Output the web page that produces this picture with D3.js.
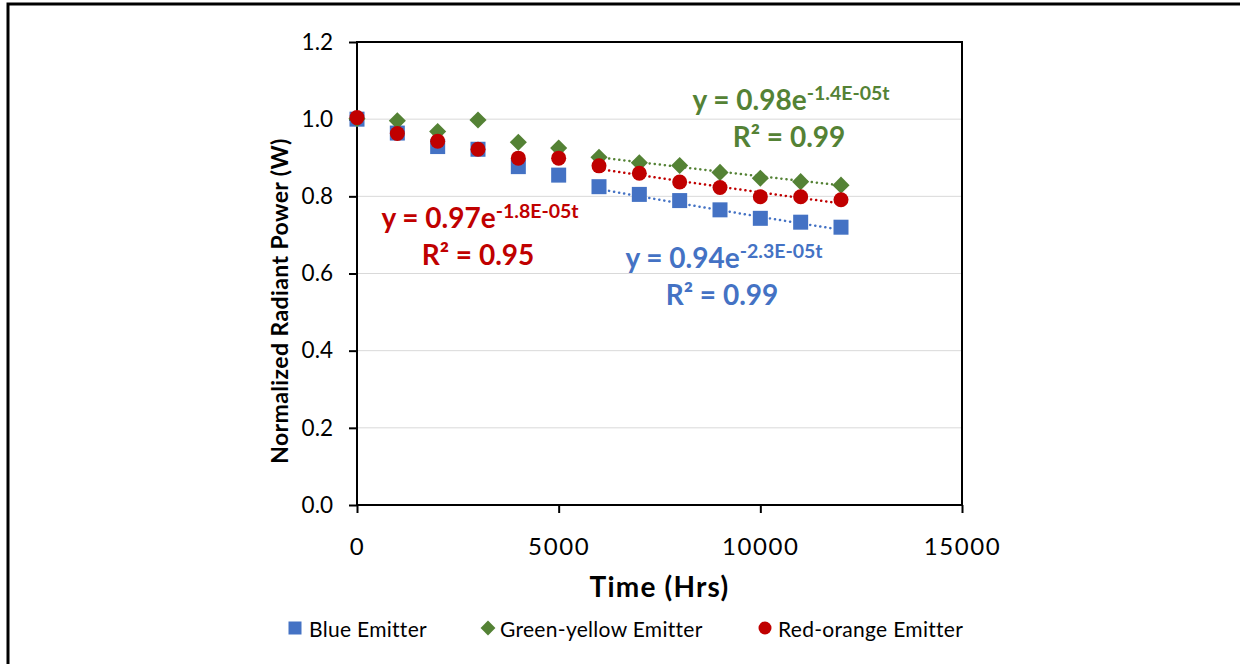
<!DOCTYPE html>
<html>
<head>
<meta charset="utf-8">
<script src="https://cdn.jsdelivr.net/npm/d3@7"></script>
<style>
  html, body { margin: 0; padding: 0; background: #fff; }
  svg { display: block; font-family: Lato, Carlito, Calibri, "Open Sans", sans-serif; }
</style>
</head>
<body>
<svg id="chart" width="1240" height="664"></svg>
<script>
// Aging hours at each measurement
const times = [0, 1000, 2000, 3000, 4000, 5000, 6000, 7000, 8000, 9000, 10000, 11000, 12000];

// Normalized radiant power per emitter
const blueValues  = [1.000, 0.964, 0.929, 0.922, 0.877, 0.855, 0.825, 0.805, 0.789, 0.765, 0.743, 0.733, 0.720];
const greenValues = [1.001, 0.996, 0.968, 0.998, 0.940, 0.925, 0.901, 0.887, 0.880, 0.862, 0.847, 0.838, 0.829];
const redValues   = [1.004, 0.963, 0.943, 0.922, 0.899, 0.899, 0.879, 0.860, 0.837, 0.823, 0.799, 0.799, 0.791];

// Exponential fits y = a·e^(b·t), fitted over 6000–12000 h
const fitRange  = [6000, 12000];
const fitA      = [0.94, 0.98, 0.97];
const fitB      = [-2.3e-5, -1.4e-5, -1.8e-5];
const fitBLabel = ["-2.3E-05t", "-1.4E-05t", "-1.8E-05t"];
const fitR2     = ["0.99", "0.99", "0.95"];

const seriesNames = ["Blue Emitter", "Green-yellow Emitter", "Red-orange Emitter"];
const yTicks = [0, 0.2, 0.4, 0.6, 0.8, 1.0, 1.2];
const xTicks = [0, 5000, 10000, 15000];

const colors = ["#4472C4", "#548235", "#C00000"];
const shapes = ["square", "diamond", "circle"];
const seriesValues = [blueValues, greenValues, redValues];

const svg = d3.select("#chart");

// Outer chart border
svg.append("rect")
  .attr("x", 8).attr("y", 4)
  .attr("width", 1260).attr("height", 700)
  .attr("fill", "none").attr("stroke", "#000").attr("stroke-width", 3);

const plot = { left: 357, right: 962, top: 42, bottom: 505 };

const x = d3.scaleLinear().domain([0, 15000]).range([plot.left, plot.right]);
const y = d3.scaleLinear().domain([0, 1.2]).range([plot.bottom, plot.top]);

// Horizontal gridlines
svg.append("g")
  .selectAll("line")
  .data(yTicks.filter(d => d > 0))
  .join("line")
  .attr("x1", plot.left).attr("x2", plot.right)
  .attr("y1", d => y(d)).attr("y2", d => y(d))
  .attr("stroke", "#D9D9D9").attr("stroke-width", 1);

// Axes
const yAxis = svg.append("g")
  .attr("transform", `translate(${plot.left},0)`)
  .call(d3.axisLeft(y).tickValues(yTicks).tickFormat(d3.format(".1f"))
        .tickSize(8).tickSizeOuter(0).tickPadding(16));
const xAxis = svg.append("g")
  .attr("transform", `translate(0,${plot.bottom})`)
  .call(d3.axisBottom(x).tickValues(xTicks).tickFormat(d3.format("d"))
        .tickSize(8).tickSizeOuter(0).tickPadding(25));

[yAxis, xAxis].forEach(g => {
  g.select(".domain").remove();
  g.selectAll(".tick line").attr("stroke", "#000").attr("stroke-width", 2);
  g.selectAll(".tick text").attr("fill", "#000").attr("font-family", "Lato, Carlito, Calibri, sans-serif");
});
yAxis.selectAll(".tick text").attr("font-size", 22.5);
xAxis.selectAll(".tick text").attr("font-size", 24).attr("letter-spacing", 1.6);

// Plot frame
svg.append("rect")
  .attr("x", plot.left).attr("y", plot.top)
  .attr("width", plot.right - plot.left).attr("height", plot.bottom - plot.top)
  .attr("fill", "none").attr("stroke", "#000").attr("stroke-width", 2);

// Axis titles
svg.append("text")
  .attr("x", (plot.left + plot.right) / 2).attr("y", 597)
  .attr("text-anchor", "middle")
  .attr("font-size", 28).attr("font-weight", "bold")
  .attr("letter-spacing", 1.2)
  .text("Time (Hrs)");

svg.append("text")
  .attr("transform", "translate(279,301) rotate(-90)")
  .attr("text-anchor", "middle").attr("dominant-baseline", "central")
  .attr("font-size", 23).attr("font-weight", "bold")
  .attr("letter-spacing", 0.4)
  .text("Normalized Radiant Power (W)");

// Trendlines (dotted)
const fitTimes = d3.range(fitRange[0], fitRange[1] + 1, 250);
const line = d3.line().x(d => x(d[0])).y(d => y(d[1]));
fitA.forEach((a, i) => {
  const pts = fitTimes.map(t => [t, a * Math.exp(fitB[i] * t)]);
  svg.append("path")
    .datum(pts)
    .attr("d", line)
    .attr("fill", "none")
    .attr("stroke", colors[i])
    .attr("stroke-width", 2.5)
    .attr("stroke-linecap", "round")
    .attr("stroke-dasharray", "0.1 5");
});

// Marker drawing
function marker(sel, shape, size, color) {
  if (shape === "square") {
    sel.append("rect")
      .attr("x", -size / 2).attr("y", -size / 2)
      .attr("width", size).attr("height", size)
      .attr("fill", color);
  } else if (shape === "diamond") {
    const h = size * 0.57;
    sel.append("path")
      .attr("d", `M0,${-h}L${h},0L0,${h}L${-h},0Z`)
      .attr("fill", color);
  } else {
    sel.append("circle").attr("r", size / 2).attr("fill", color);
  }
}

seriesValues.forEach((vals, i) => {
  const g = svg.append("g");
  vals.forEach((v, j) => {
    const m = g.append("g").attr("transform", `translate(${x(times[j])},${y(v)})`);
    marker(m, shapes[i], 15, colors[i]);
  });
});

// Fit equations
const eqPos = [[724, 268], [791, 110], [480, 228]];
fitA.forEach((a, i) => {
  const [cx, by] = eqPos[i];
  const t1 = svg.append("text")
    .attr("x", cx).attr("y", by)
    .attr("text-anchor", "middle")
    .attr("font-size", 28).attr("font-weight", "bold")
    .attr("fill", colors[i]);
  t1.append("tspan").text(`y = ${a.toFixed(2)}e`);
  t1.append("tspan").attr("dy", -10).attr("font-size", 19.5).text(fitBLabel[i]);

  svg.append("text")
    .attr("x", cx - 2).attr("y", by + 37)
    .attr("text-anchor", "middle")
    .attr("font-size", 28).attr("font-weight", "bold")
    .attr("fill", colors[i])
    .text(`R² = ${fitR2[i]}`);
});

// Legend
const legendX = [[295, 309], [488, 500], [765, 778]];
seriesNames.forEach((name, i) => {
  const g = svg.append("g").attr("transform", `translate(${legendX[i][0]},628)`);
  marker(g, shapes[i], 13, colors[i]);
  svg.append("text")
    .attr("x", legendX[i][1]).attr("y", 628)
    .attr("dominant-baseline", "central")
    .attr("font-size", 21)
    .attr("letter-spacing", 0.3)
    .attr("fill", "#000")
    .text(name);
});
</script>
</body>
</html>
